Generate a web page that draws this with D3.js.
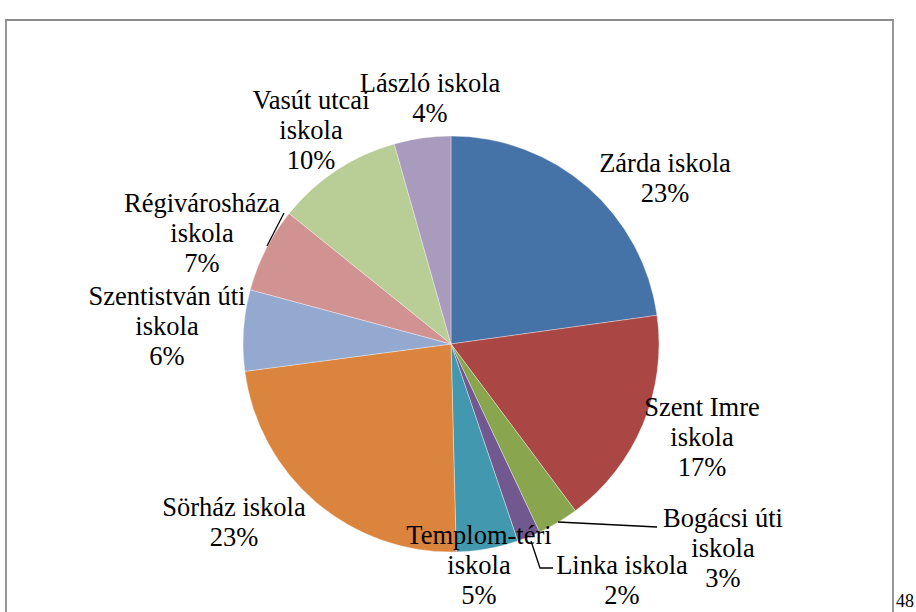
<!DOCTYPE html>
<html>
<head>
<meta charset="utf-8">
<script src="https://cdn.jsdelivr.net/npm/d3@7"></script>
<style>
  html, body { margin: 0; padding: 0; background: #fff; }
  svg { display: block; }
</style>
</head>
<body>
<svg id="chart" width="916" height="612"></svg>
<script>
// Data
const categories = ["Zárda iskola", "Szent Imre iskola", "Bogácsi úti iskola", "Linka iskola",
  "Templom-téri iskola", "Sörház iskola", "Szentistván úti iskola", "Régivárosháza iskola",
  "Vasút utcai iskola", "László iskola"];
const values = [22.8, 17.0, 3.2, 1.8, 4.8, 23.3, 6.3, 6.6, 9.8, 4.4];
const colors = ["#4572A7", "#AA4643", "#89A54E", "#71588F", "#4198AF",
  "#DB843D", "#93A9CF", "#D19392", "#B9CD96", "#A99BBD"];
// label line breaks as shown in the chart
const labelLines = [
  ["Zárda iskola"], ["Szent Imre", "iskola"], ["Bogácsi úti", "iskola"], ["Linka iskola"],
  ["Templom-téri", "iskola"], ["Sörház iskola"], ["Szentistván úti", "iskola"],
  ["Régivárosháza", "iskola"], ["Vasút utcai", "iskola"], ["László iskola"]
];
const pageNumber = "48";
const FONT = '"Liberation Serif"';

// Layout
const svg = d3.select("#chart");
const cx = 451, cy = 344, r = 208;

// frame
svg.append("path")
  .attr("d", "M6,625 L6,20 L893,20 L893,625")
  .attr("fill", "none").attr("stroke", "#8c8c8c").attr("stroke-width", 1.8);

svg.append("text").attr("x", 896).attr("y", 607)
  .style("font-family", FONT).style("font-size", "18px").attr("fill", "#000").text(pageNumber);

const total = d3.sum(values);
const pie = d3.pie().sort(null).value(d => d)(values);
const arc = d3.arc().innerRadius(0).outerRadius(r);

const g = svg.append("g").attr("transform", `translate(${cx},${cy})`);
g.selectAll("path.slice").data(pie).join("path")
  .attr("class", "slice")
  .attr("d", arc)
  .attr("fill", (d, i) => colors[i])
  .attr("stroke", "#ffffff").attr("stroke-opacity", 0.6).attr("stroke-width", 0.6);

// label positions (center x, first baseline) as placed in the chart
const labelPos = [
  [665, 172], [702, 416], [723, 527], [622, 574], [479, 544],
  [234, 516], [167, 305], [202, 212], [311, 109], [430, 92]
];
const lineH = 30;

const leaders = [
  [[267, 246], [284, 213]],
  [[558, 522], [657, 527]],
  [[531, 541], [540, 568], [553, 568]]
];
leaders.forEach(pts => {
  svg.append("path")
    .attr("d", d3.line()(pts))
    .attr("fill", "none").attr("stroke", "#000").attr("stroke-width", 1.3);
});

const labels = svg.append("g");

categories.forEach((c, i) => {
  const lines = labelLines[i].concat([d3.format(".0%")(values[i] / total)]);
  const t = labels.append("text").attr("x", labelPos[i][0]).attr("y", labelPos[i][1])
    .style("font-family", FONT).style("font-size", "26.5px")
    .attr("fill", "#000").attr("text-anchor", "middle");
  lines.forEach((ln, k) => {
    t.append("tspan").attr("x", labelPos[i][0]).attr("y", labelPos[i][1] + k * lineH).text(ln);
  });
});
</script>
</body>
</html>
